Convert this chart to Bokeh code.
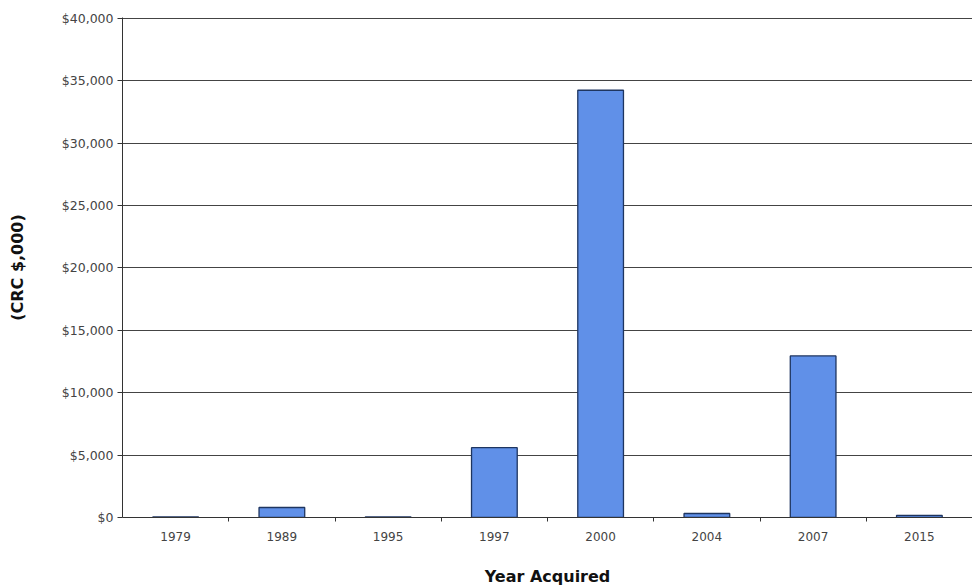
from bokeh.plotting import figure
from bokeh.models import ColumnDataSource, FixedTicker, NumeralTickFormatter, Range1d
from bokeh.embed import file_html
from bokeh.resources import INLINE

# Acquisition value by year (CRC, thousands)
years = ["1979", "1989", "1995", "1997", "2000", "2004", "2007", "2015"]
values = [40, 800, 40, 5600, 34250, 320, 12950, 170]
y_ticks = [0, 5000, 10000, 15000, 20000, 25000, 30000, 35000, 40000]

positions = list(range(1, len(years) + 1))
source = ColumnDataSource(data=dict(x=positions, top=values, year=years))

p = figure(
    width=972, height=588,
    x_range=Range1d(0.5, len(years) + 0.5),
    y_range=Range1d(0, 40080),
    output_backend="svg", toolbar_location=None,
    min_border_left=122, min_border_right=0, min_border_top=17, min_border_bottom=70,
)

p.vbar(x="x", top="top", width=0.43, source=source,
       fill_color="#6090E8", line_color="#1E3560", line_width=1.3)

# x axis: labels at category centres, tick marks between categories
p.xaxis.ticker = FixedTicker(ticks=positions,
                             minor_ticks=[i + 0.5 for i in range(1, len(years))] + [len(years) + 0.5])
p.xaxis.major_label_overrides = {pos: yr for pos, yr in zip(positions, years)}
p.xaxis.major_tick_line_color = None
p.xaxis.minor_tick_out = 4
p.xaxis.minor_tick_in = 0
p.xaxis.minor_tick_line_color = "#333333"
p.xaxis.axis_label = "Year Acquired"
p.xaxis.axis_label_text_font = "DejaVu Sans"
p.xaxis.axis_label_text_font_style = "bold"
p.xaxis.axis_label_text_font_size = "16px"
p.xaxis.axis_label_text_color = "#111111"
p.xaxis.axis_label_standoff = 23
p.xaxis.major_label_text_font = "DejaVu Sans"
p.xaxis.major_label_text_font_size = "12px"
p.xaxis.major_label_text_color = "#444444"
p.xaxis.major_label_standoff = 8
p.xaxis.axis_line_color = "#333333"

# y axis: dollar values
p.yaxis.ticker = FixedTicker(ticks=y_ticks)
p.yaxis.formatter = NumeralTickFormatter(format="$0,0")
p.yaxis.minor_tick_line_color = None
p.yaxis.major_tick_in = 0
p.yaxis.major_tick_out = 5
p.yaxis.major_tick_line_color = "#333333"
p.yaxis.axis_line_color = "#333333"
p.yaxis.major_label_text_font = "DejaVu Sans"
p.yaxis.major_label_text_font_size = "12.5px"
p.yaxis.major_label_text_color = "#444444"
p.yaxis.major_label_standoff = 4
p.yaxis.axis_label = "(CRC $,000)"
p.yaxis.axis_label_text_font = "DejaVu Sans"
p.yaxis.axis_label_text_font_style = "bold"
p.yaxis.axis_label_text_font_size = "16px"
p.yaxis.axis_label_text_color = "#111111"
p.yaxis.axis_label_standoff = 32

p.xgrid.grid_line_color = None
p.ygrid.grid_line_color = "#444444"
p.ygrid.grid_line_width = 1
p.outline_line_color = None
p.background_fill_color = "white"
p.border_fill_color = "white"

open("out.html", "w").write(file_html(p, INLINE))
